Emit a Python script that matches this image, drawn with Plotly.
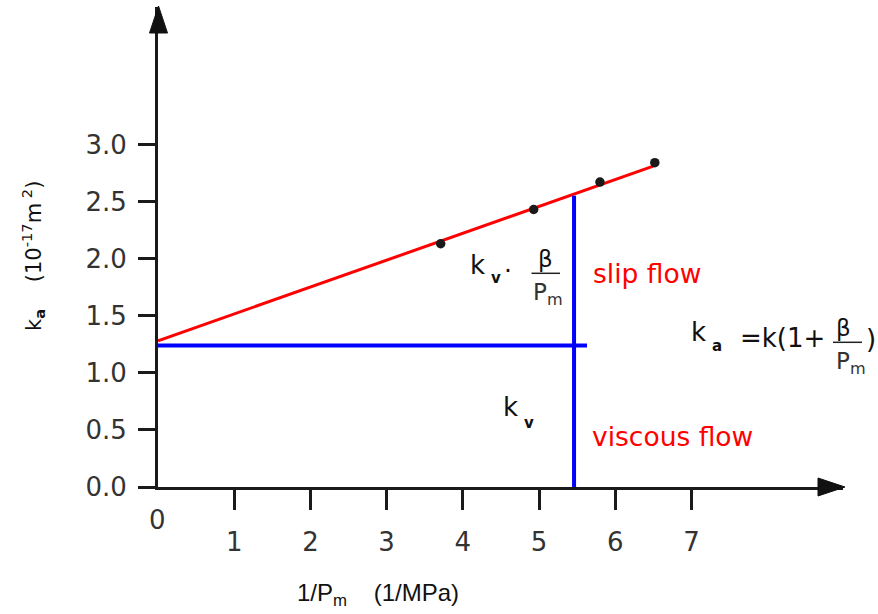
import plotly.graph_objects as go

# ---- data ----
point_x = [3.71, 4.93, 5.80, 6.52]
point_y = [2.13, 2.43, 2.67, 2.84]
fit_x = [0.0, 6.50]
fit_y = [1.28, 2.81]
kv_x = [0.0, 5.63]
kv_y = [1.24, 1.24]
cut_x = [5.46, 5.46]
cut_y = [0.0, 2.55]
x_ticks = [1, 2, 3, 4, 5, 6, 7]
y_ticks = [0.0, 0.5, 1.0, 1.5, 2.0, 2.5, 3.0]

# ---- layout geometry (pixels) ----
W, H = 878, 614
L, R, T, B = 158, 35, 7, 127
PW, PH = W - L - R, H - T - B
XPX, YPX = 76.2, 114.2  # pixels per unit

def px(x):
    return (x - L) / PW

def py(y):
    return (H - B - y) / PH

FONT = "DejaVu Sans"
fig = go.Figure()

fig.add_trace(go.Scatter(x=fit_x, y=fit_y, mode="lines",
                         line=dict(color="#ff0000", width=3), cliponaxis=False))
fig.add_trace(go.Scatter(x=kv_x, y=kv_y, mode="lines",
                         line=dict(color="#0000ff", width=4), cliponaxis=False))
fig.add_trace(go.Scatter(x=cut_x, y=cut_y, mode="lines",
                         line=dict(color="#0000ff", width=4), cliponaxis=False))
fig.add_trace(go.Scatter(x=point_x, y=point_y, mode="markers",
                         marker=dict(color="#1a1a1a", size=9.5), cliponaxis=False))

fig.update_layout(
    width=W, height=H, margin=dict(l=L, r=R, t=T, b=B),
    plot_bgcolor="white", paper_bgcolor="white", showlegend=False,
    font=dict(family=FONT, color="#222"),
)
fig.update_xaxes(
    range=[0, PW / XPX], tickvals=x_ticks, ticks="outside", ticklen=20, tickwidth=3,
    tickcolor="#1a1a1a", showline=True, linewidth=3, linecolor="#1a1a1a",
    showgrid=False, zeroline=False, tickfont=dict(size=26, color="#333", family=FONT),
    ticklabelstandoff=10,
)
fig.update_yaxes(
    range=[0, PH / YPX], tickvals=y_ticks, ticktext=[f"{v:.1f}" for v in y_ticks],
    ticks="outside", ticklen=17, tickwidth=3,
    tickcolor="#1a1a1a", showline=True, linewidth=3, linecolor="#1a1a1a",
    showgrid=False, zeroline=False, tickfont=dict(size=26, color="#333", family=FONT),
    ticklabelstandoff=6,
)

# arrowheads
def tri(p1, p2, p3):
    return "M {} {} L {} {} L {} {} Z".format(px(p1[0]), py(p1[1]), px(p2[0]), py(p2[1]), px(p3[0]), py(p3[1]))

fig.add_shape(type="path", xref="paper", yref="paper",
              path=tri((845, 487), (818, 478), (818, 496)),
              fillcolor="#111", line=dict(color="#111", width=1))
fig.add_shape(type="path", xref="paper", yref="paper",
              path=tri((158.5, 6), (149.5, 33), (167.5, 33)),
              fillcolor="#111", line=dict(color="#111", width=1))

def text(s, x, y, size=25, color="#111", family=FONT, angle=0):
    fig.add_annotation(text=s, x=px(x), y=py(y), xref="paper", yref="paper",
                       showarrow=False, xanchor="center", yanchor="middle",
                       font=dict(size=size, color=color, family=family), textangle=angle)

def bar(x0, x1, y):
    fig.add_shape(type="line", xref="paper", yref="paper",
                  x0=px(x0), x1=px(x1), y0=py(y), y1=py(y),
                  line=dict(color="#222", width=1.5))

# origin label
text("0", 157, 520, size=26, color="#333")

# axis titles
text("1/P<sub>m</sub>&nbsp;&nbsp;&nbsp; (1/MPa)", 378, 594, size=24, color="#111", family="Liberation Sans")
text("k<sub><b>a</b></sub>&nbsp;&nbsp;&nbsp; (10<sup>-17</sup>m<sup>&nbsp;2</sup>)", 33, 256, size=21,
     color="#111", angle=-90)

# k_v . beta / P_m
text("k", 477, 265, size=26)
text("<b>v</b>", 496, 278, size=15)
text("·", 508, 270, size=25)
text("β", 545, 259, size=23)
bar(531.5, 560, 273.3)
text("P<sub>m</sub>", 548, 294, size=23, color="#333")

text("slip flow", 647, 273, size=26.5, color="#ff0000")

# k_a = k(1 + beta/P_m)
text("k", 698, 332, size=26)
text("<b>a</b>", 717, 346, size=15)
text("=k(1+", 782, 338, size=26)
text("β", 843, 328, size=23)
bar(833, 862, 342.3)
text("P<sub>m</sub>", 851, 363, size=23, color="#333")
text(")", 871, 339, size=26)

# k_v lower
text("k", 511, 407, size=26)
text("<b>v</b>", 529, 423, size=15)

text("viscous flow", 672, 436, size=26.5, color="#ff0000")

fig.write_html("out.html")
